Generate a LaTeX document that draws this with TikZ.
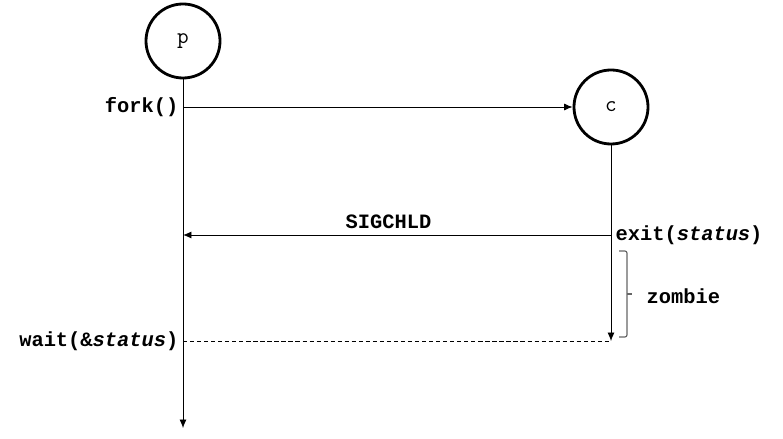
\documentclass[tikz,border=0pt]{standalone}
\usepackage{fontspec}
\setmonofont{Liberation Mono}
\newfontfamily\procfont{Latin Modern Mono}
\usetikzlibrary{positioning, arrows.meta}

\begin{document}
\begin{tikzpicture}[
    x=0.025cm, y=-0.025cm, >={Latex[length=6pt, width=5pt]}, line width=0.6pt,
    proc/.style={circle, draw, line width=2pt, minimum size=1.85cm, inner sep=0pt,
                 font=\procfont\fontsize{16}{18}\selectfont},
    lbl/.style={font=\ttfamily\bfseries\fontsize{14.5}{17}\selectfont, inner sep=3pt},
    call/.style={dash pattern=on 3pt off 2pt},
    brace/.style={draw=black!60, line width=0.8pt, rounded corners=1.5pt}
]
    \useasboundingbox (0,0) rectangle (783,439);

    % processes
    \node[proc] (p) at (183,41) {p};
    \node[proc] (c) at (611,107) {c};

    \coordinate (pend) at (183,428);
    \coordinate (cend) at (611,341);
    \coordinate (fork) at (183,107);
    \coordinate (exit) at (611,235);
    \coordinate (sig) at (183,235);
    \coordinate (wait) at (183,341);

    % lifelines
    \draw[->] (p) -- (pend);
    \draw[->] (c) -- (cend);

    % messages
    \draw[->] (fork) -- (c);
    \draw[->] (exit) -- (sig) node[lbl, pos=0.52, above=1pt] (sigchld) {SIGCHLD};
    \draw[call] (wait) -- (cend);

    \node[lbl, anchor=east] (forklbl) at (fork) {fork()};
    \node[lbl, anchor=west] (exitlbl) at (exit) {exit(\textit{status})};
    \node[lbl, anchor=east] (waitlbl) at (wait) {wait(\&\textit{status})};

    % zombie interval
    \draw[brace] (619,251) -- (627,251) -- (627,337) -- (619,337);
    \draw[brace] (627,294) -- (632,294);
    \node[lbl, anchor=west] (zombie) at (642,296) {zombie};
\end{tikzpicture}
\end{document}
